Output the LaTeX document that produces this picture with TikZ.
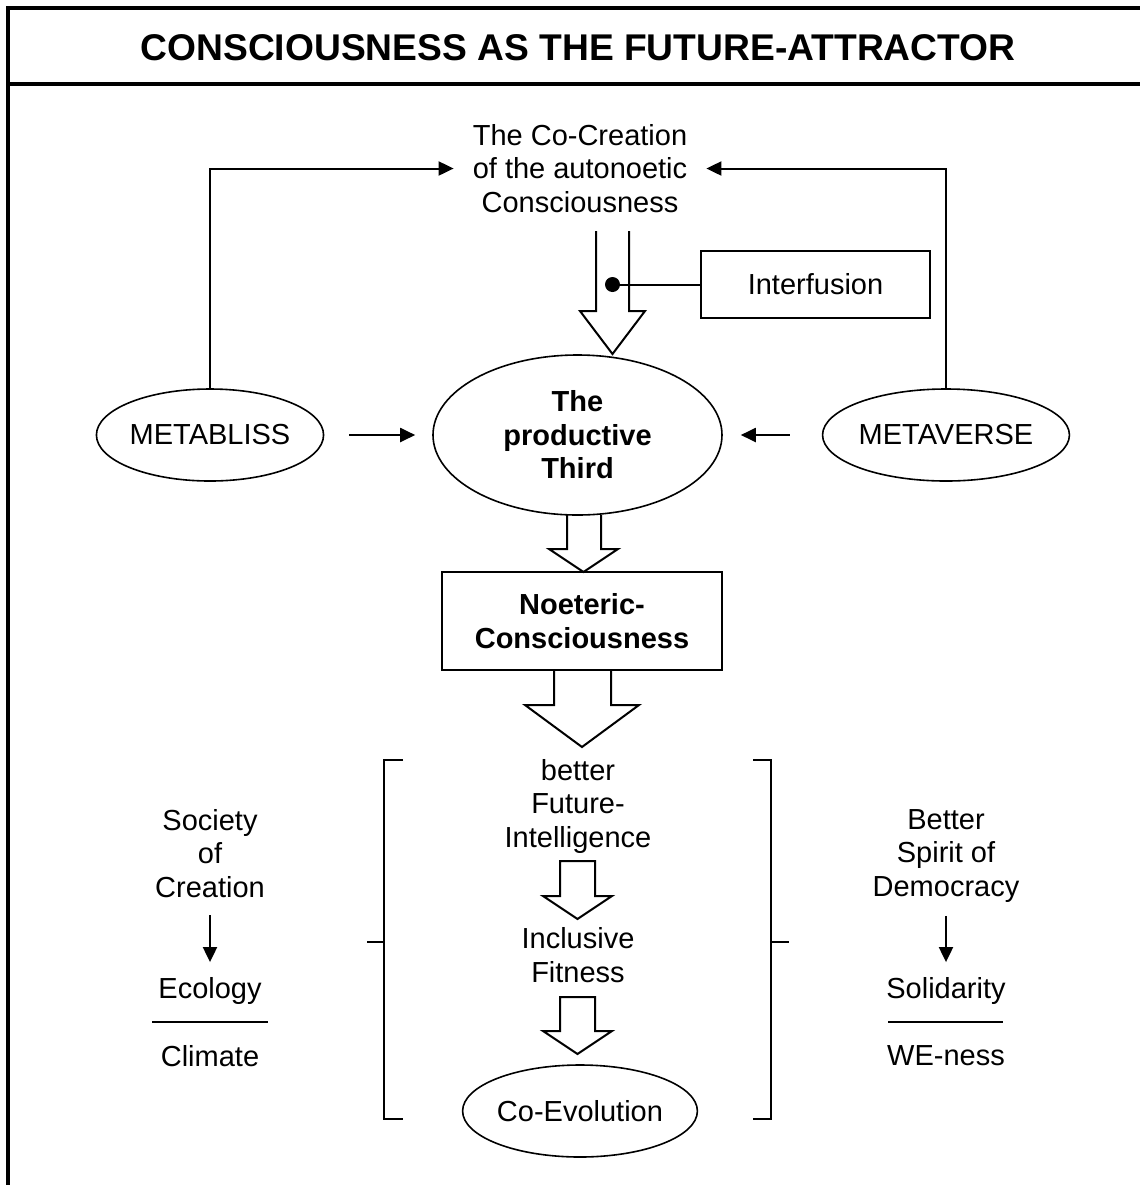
\documentclass[tikz,border=0pt]{standalone}
\usepackage{fontspec}
\setmainfont{Liberation Sans}
\usetikzlibrary{shapes.geometric,arrows.meta}

\tikzset{
  txt/.style={font=\fontsize{14.5}{16.75}\selectfont,align=center,inner sep=0pt},
  btxt/.style={txt,font=\fontsize{14.5}{16.75}\selectfont\bfseries},
  oval/.style={draw,ellipse,line width=0.8pt,txt},
  box/.style={draw,rectangle,line width=1pt,txt},
  conn/.style={line width=1pt,-{Triangle[length=7.5pt,width=7pt]}},
  hollow/.style={line width=1pt,line join=miter},
  frame/.style={line width=2pt},
}

\begin{document}
\begin{tikzpicture}[x=0.5pt,y=-0.5pt]
\useasboundingbox (0,0) rectangle (1140,1185);
\draw[frame] (8,1185) -- (8,8) -- (1140,8);
\draw[frame] (8,84) -- (1140,84);
\node[font=\fontsize{18.6}{21}\selectfont\bfseries] (title) at (578,48) {CONSCIOUSNESS AS THE FUTURE-ATTRACTOR};

\node[txt,minimum width=126pt] (cocreat) at (580,168.5) {The Co-Creation\\of the autonoetic\\Consciousness};
\node[oval,minimum width=112pt,minimum height=46pt] (bliss) at (210,435) {METABLISS};
\node[oval,minimum width=113pt,minimum height=46pt] (verse) at (946,435) {METAVERSE};
\node[oval,btxt,minimum width=144.5pt,minimum height=80pt] (third) at (577.5,435) {The\\productive\\Third};
\node[box,minimum width=114.5pt,minimum height=33.5pt] (interf) at (815.5,284.5) {Interfusion};
\node[box,btxt,minimum width=140.3pt,minimum height=49pt] (noet) at (582,621) {Noeteric-\\Consciousness};

\node[txt,anchor=north] (fut) at (578,759) {better\\Future-\\Intelligence};
\node[txt] (incl) at (578,955) {Inclusive\\Fitness};
\node[oval,minimum width=112.5pt,minimum height=46pt] (coevo) at (580,1111) {Co-Evolution};

\node[txt,anchor=north] (soc) at (210,809) {Society\\of\\Creation};
\node[txt] (eco) at (210,991) {Ecology};
\node[txt] (clim) at (210,1056) {Climate};
\node[txt,anchor=north] (demo) at (946,809) {Better\\Spirit of\\Democracy};
\node[txt] (soli) at (946,991) {Solidarity};
\node[txt] (we) at (946,1056) {WE-ness};

\draw[conn] (bliss.north) |- (cocreat.west);
\draw[conn] (verse.north) |- (cocreat.east);
\draw[conn,shorten <=12.5pt,shorten >=8.5pt] (bliss.east) -- (third.west);
\draw[conn,shorten <=16pt,shorten >=9pt] (verse.west) -- (third.east);
\draw[conn,shorten <=8.5pt,shorten >=7.5pt] (soc.south) -- (eco.north);
\draw[conn,shorten <=6.5pt,shorten >=7.5pt] (demo.south) -- (soli.north);

\coordinate (jn) at (612.5,284.5);
\draw[line width=1pt] (interf.west) -- (jn);
\fill (jn) circle (3.75pt);

\draw[hollow] (596,231) -- (596,311) -- (580,311) -- (612.5,354) -- (645,311) -- (629,311) -- (629,231);
\draw[hollow] (567,515) -- (567,549) -- (549,549) -- (583.5,572) -- (618,549) -- (601,549) -- (601,515);
\draw[hollow] (554,670) -- (554,705) -- (525,705) -- (582,747) -- (639,705) -- (611,705) -- (611,670);
\draw[hollow] (560,861) -- (560,896) -- (543,896) -- (577.5,919) -- (612,896) -- (595,896) -- (595,861) -- cycle;
\draw[hollow] (560,997) -- (560,1031) -- (543,1031) -- (577.5,1054) -- (612,1031) -- (595,1031) -- (595,997) -- cycle;

\draw[line width=1pt] (152,1022) -- (268,1022);
\draw[line width=1pt] (888,1022) -- (1003,1022);

\draw[line width=1pt] (403,760) -- (384,760) -- (384,1119) -- (403,1119);
\draw[line width=1pt] (367,942) -- (384,942);
\draw[line width=1pt] (753,760) -- (771,760) -- (771,1119) -- (753,1119);
\draw[line width=1pt] (771,942) -- (789,942);
\end{tikzpicture}
\end{document}
